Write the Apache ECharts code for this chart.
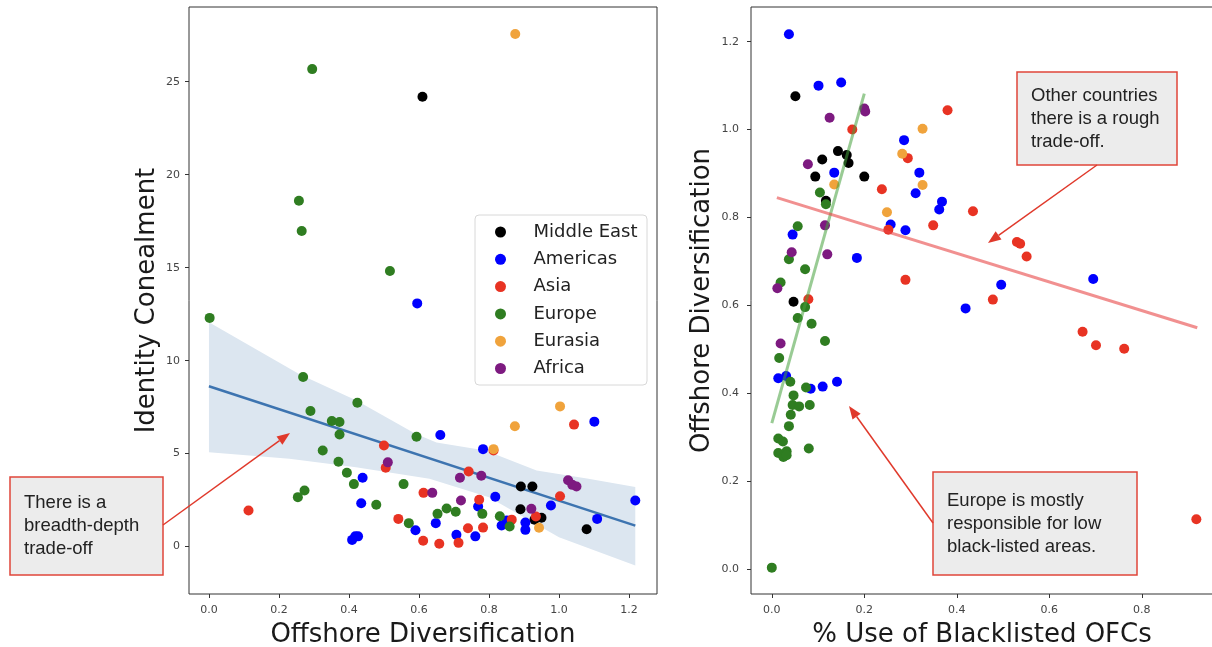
<!DOCTYPE html>
<html>
<head>
<meta charset="utf-8">
<script src="https://cdn.jsdelivr.net/npm/echarts@6.0.0/dist/echarts.min.js"></script>
<style>
  html, body { margin: 0; padding: 0; background: #fff; }
  #main { width: 1212px; height: 647px; }
</style>
</head>
<body>
<div id="main"></div>
<script>
// region names and colours
var regions = ['Middle East', 'Americas', 'Asia', 'Europe', 'Eurasia', 'Africa'];
var regionColors = ['#000000', '#0000ff', '#e83323', '#2f7d21', '#f0a33c', '#7d1a80'];

// left panel: [offshore diversification, identity concealment]
var leftMiddleEast = [[0.61,24.19],[0.891,3.23],[0.924,3.23],[0.89,2.01],[0.93,1.44],[0.95,1.55],[1.079,0.93]];
var leftAmericas = [[0.595,13.08],[0.661,6.00],[0.439,3.70],[0.435,2.33],[0.59,0.88],[0.409,0.36],[0.418,0.55],[0.426,0.55],
  [0.648,1.26],[0.707,0.63],[0.761,0.55],[0.769,2.16],[0.783,5.24],[0.818,2.68],[0.836,1.13],[0.851,1.40],[0.904,1.29],
  [0.904,0.90],[0.977,2.21],[1.101,6.72],[1.109,1.49],[1.218,2.48]];
var leftAsia = [[0.113,1.94],[0.50,5.44],[0.505,4.24],[0.613,2.89],[0.541,1.49],[0.612,0.31],[0.658,0.15],[0.713,0.20],
  [0.74,0.99],[0.742,4.04],[0.772,2.52],[0.783,1.02],[0.813,5.17],[0.865,1.45],[0.934,1.62],[1.003,2.71],[1.043,6.56]];
var leftEurope = [[0.002,12.30],[0.295,25.68],[0.257,18.60],[0.265,16.97],[0.517,14.82],[0.269,9.12],[0.29,7.29],[0.424,7.74],
  [0.351,6.75],[0.373,6.70],[0.373,6.03],[0.593,5.91],[0.325,5.17],[0.37,4.56],[0.394,3.97],[0.414,3.36],[0.556,3.36],
  [0.273,3.02],[0.254,2.66],[0.478,2.25],[0.571,1.26],[0.653,1.76],[0.679,2.05],[0.705,1.87],[0.781,1.76],[0.831,1.63],[0.859,1.08]];
var leftEurasia = [[0.875,27.57],[0.813,5.24],[0.874,6.47],[1.003,7.54],[0.943,1.01]];
var leftAfrica = [[0.511,4.53],[0.638,2.89],[0.717,3.70],[0.72,2.48],[0.778,3.81],[0.921,2.03],[1.026,3.57],[1.038,3.32],[1.05,3.23]];

// regression line and its confidence band (left)
var leftFit = [[0,8.62],[1.218,1.13]];
var bandUpper = [[0,12.07],[0.26,9.25],[0.42,7.87],[0.59,6.07],[0.65,5.6],[0.79,5.17],[0.936,4.09],[1.08,3.66],[1.218,3.20]];
var bandLower = [[0,5.08],[0.23,4.73],[0.42,4.27],[0.63,3.65],[0.8,2.66],[0.9,1.58],[1.0,0.50],[1.218,-1.02]];

// right panel: [% use of blacklisted OFCs, offshore diversification]
var rightMiddleEast = [[0.051,1.076],[0.143,0.951],[0.162,0.942],[0.166,0.924],[0.109,0.932],[0.094,0.893],[0.2,0.893],[0.117,0.838],[0.047,0.608]];
var rightAmericas = [[0.037,1.217],[0.101,1.100],[0.150,1.107],[0.135,0.902],[0.257,0.784],[0.045,0.761],[0.184,0.708],
  [0.014,0.434],[0.031,0.439],[0.084,0.410],[0.110,0.415],[0.141,0.426],[0.286,0.976],[0.319,0.902],[0.311,0.855],
  [0.368,0.836],[0.362,0.818],[0.289,0.771],[0.695,0.660],[0.496,0.647],[0.419,0.593]];
var rightAsia = [[0.174,1.000],[0.238,0.864],[0.252,0.772],[0.079,0.614],[0.380,1.044],[0.294,0.935],[0.435,0.814],[0.349,0.782],
  [0.53,0.744],[0.537,0.740],[0.551,0.711],[0.289,0.658],[0.478,0.613],[0.672,0.540],[0.701,0.509],[0.762,0.501],[0.918,0.113]];
var rightEurope = [[0.104,0.857],[0.117,0.830],[0.056,0.780],[0.037,0.705],[0.072,0.682],[0.019,0.652],[0.072,0.596],[0.056,0.571],
  [0.086,0.558],[0.115,0.519],[0.016,0.480],[0.04,0.426],[0.074,0.413],[0.047,0.395],[0.045,0.373],[0.059,0.370],[0.082,0.373],
  [0.041,0.351],[0.037,0.325],[0.014,0.297],[0.024,0.290],[0.014,0.264],[0.032,0.268],[0.025,0.255],[0.032,0.259],[0.08,0.274],[0.0,0.003]];
var rightEurasia = [[0.135,0.875],[0.249,0.812],[0.326,1.002],[0.282,0.945],[0.326,0.874]];
var rightAfrica = [[0.2,1.048],[0.202,1.041],[0.125,1.027],[0.078,0.921],[0.115,0.782],[0.043,0.721],[0.12,0.716],[0.012,0.639],[0.019,0.513]];

// fitted lines (right)
var europeFit = [[0,0.332],[0.2,1.082]];
var othersFit = [[0.011,0.845],[0.92,0.549]];

// tick labels
var leftXTicks = [0, 0.2, 0.4, 0.6, 0.8, 1.0, 1.2];
var leftYTicks = [0, 5, 10, 15, 20, 25];
var rightXTicks = [0, 0.2, 0.4, 0.6, 0.8];
var rightYTicks = [0, 0.2, 0.4, 0.6, 0.8, 1.0, 1.2];

var leftSets = [leftMiddleEast, leftAmericas, leftAsia, leftEurope, leftEurasia, leftAfrica];
var rightSets = [rightMiddleEast, rightAmericas, rightAsia, rightEurope, rightEurasia, rightAfrica];

var myChart = echarts.init(document.getElementById('main'));

var tickFont = { color: '#444', fontSize: 11, fontFamily: 'DejaVu Sans' };
var titleFont = { color: '#1a1a1a', fontSize: 26, fontFamily: 'DejaVu Sans' };

function valueAxis(grid, min, max, ticks, fmt, name, gap, margin) {
    return {
        type: 'value', gridIndex: grid, min: min, max: max,
        name: name, nameLocation: 'middle', nameGap: gap, nameTextStyle: titleFont,
        axisLine: { show: false, onZero: false },
        axisTick: { show: true, length: 4, customValues: ticks, lineStyle: { color: '#333' } },
        axisLabel: Object.assign({ customValues: ticks, margin: margin, formatter: fmt }, tickFont),
        splitLine: { show: false }
    };
}
var oneDec = function (v) { return (+v).toFixed(1); };
var noDec = function (v) { return String(Math.round(v)); };

var series = [];

series.push({
    type: 'custom', xAxisIndex: 0, yAxisIndex: 0, silent: true, z: 1,
    data: [[0, 0]],
    renderItem: function (params, api) {
        var pts = bandUpper.concat(bandLower.slice().reverse()).map(function (p) { return api.coord(p); });
        return { type: 'polygon', shape: { points: pts }, style: { fill: '#dce6f0' } };
    }
});
series.push({
    type: 'line', xAxisIndex: 0, yAxisIndex: 0, data: leftFit, showSymbol: false, silent: true, z: 2,
    lineStyle: { color: '#3d74b0', width: 2.5 }
});

regions.forEach(function (name, i) {
    series.push({
        name: name, type: 'scatter', xAxisIndex: 0, yAxisIndex: 0, data: leftSets[i],
        symbolSize: 10, itemStyle: { color: regionColors[i], opacity: 1 }, z: 3
    });
    series.push({
        name: name, type: 'scatter', xAxisIndex: 1, yAxisIndex: 1, data: rightSets[i],
        symbolSize: 10, itemStyle: { color: regionColors[i], opacity: 1 }, z: 3
    });
});

series.push({
    type: 'line', xAxisIndex: 1, yAxisIndex: 1, data: europeFit, showSymbol: false, silent: true, z: 4,
    lineStyle: { color: 'rgba(70,160,60,0.55)', width: 3 }
});
series.push({
    type: 'line', xAxisIndex: 1, yAxisIndex: 1, data: othersFit, showSymbol: false, silent: true, z: 4,
    lineStyle: { color: 'rgba(232,70,70,0.6)', width: 3 }
});

// annotation boxes and arrows
var noteFont = '18.5px "Liberation Sans", Arial, sans-serif';
function noteBox(x, y, w, h, text) {
    return [{
        type: 'rect', shape: { x: x, y: y, width: w, height: h },
        style: { fill: '#ececec', stroke: '#e0453a', lineWidth: 1.5 }, z: 100
    }, {
        type: 'text', x: x + 14, y: y + h / 2, z: 101,
        style: { text: text, font: noteFont, fill: '#222', verticalAlign: 'middle', lineHeight: 23 }
    }];
}
function arrow(x1, y1, x2, y2) {
    var a = Math.atan2(y2 - y1, x2 - x1), L = 13, W = 5;
    var bx = x2 - L * Math.cos(a), by = y2 - L * Math.sin(a);
    return [{
        type: 'line', shape: { x1: x1, y1: y1, x2: bx, y2: by }, z: 100,
        style: { stroke: '#e0392b', lineWidth: 1.5 }
    }, {
        type: 'polygon', z: 100,
        shape: { points: [[x2, y2], [bx + W * Math.sin(a), by - W * Math.cos(a)], [bx - W * Math.sin(a), by + W * Math.cos(a)]] },
        style: { fill: '#e0392b' }
    }];
}

// legend frame (the legend itself is drawn without a box)
var legendFrame = {
    type: 'rect', shape: { x: 475, y: 215, width: 172, height: 170, r: 4 }, z: 1,
    style: { fill: '#fff', stroke: '#d8d8d8', lineWidth: 1 }
};

var graphics = [legendFrame].concat(
    noteBox(10, 477, 153, 98, 'There is a\nbreadth-depth\ntrade-off'),
    arrow(163, 525, 290, 433),
    noteBox(1017, 72, 160, 93, 'Other countries\nthere is a rough\ntrade-off.'),
    arrow(1097, 165, 988, 243),
    noteBox(933, 472, 204, 103, 'Europe is mostly\nresponsible for low\nblack-listed areas.'),
    arrow(933, 523, 849, 406)
);

var option = {
    animation: false,
    backgroundColor: '#ffffff',
    grid: [
        { left: 189, top: 7, width: 468, height: 587, outerBoundsMode: 'none', show: true, borderColor: '#333', borderWidth: 1, backgroundColor: 'transparent' },
        { left: 751, top: 7, width: 462, height: 587, outerBoundsMode: 'none', show: true, borderColor: '#333', borderWidth: 1, backgroundColor: 'transparent' }
    ],
    xAxis: [
        valueAxis(0, -0.057, 1.28, leftXTicks, oneDec, 'Offshore Diversification', 28, 11),
        valueAxis(1, -0.045, 0.954, rightXTicks, oneDec, '% Use of Blacklisted OFCs', 28, 11)
    ],
    yAxis: [
        valueAxis(0, -2.55, 29.02, leftYTicks, noDec, 'Identity Conealment', 29, 9),
        valueAxis(1, -0.057, 1.279, rightYTicks, oneDec, 'Offshore Diversification', 36, 12)
    ],
    legend: {
        data: regions, orient: 'vertical', left: 495, top: 215,
        icon: 'circle', itemWidth: 56, itemHeight: 11, itemGap: 9.3,
        padding: [8, 0, 9, 0],
        textStyle: { fontSize: 18, fontFamily: 'DejaVu Sans', color: '#222', lineHeight: 17 }
    },
    graphic: graphics,
    series: series
};

myChart.setOption(option);
</script>
</body>
</html>
